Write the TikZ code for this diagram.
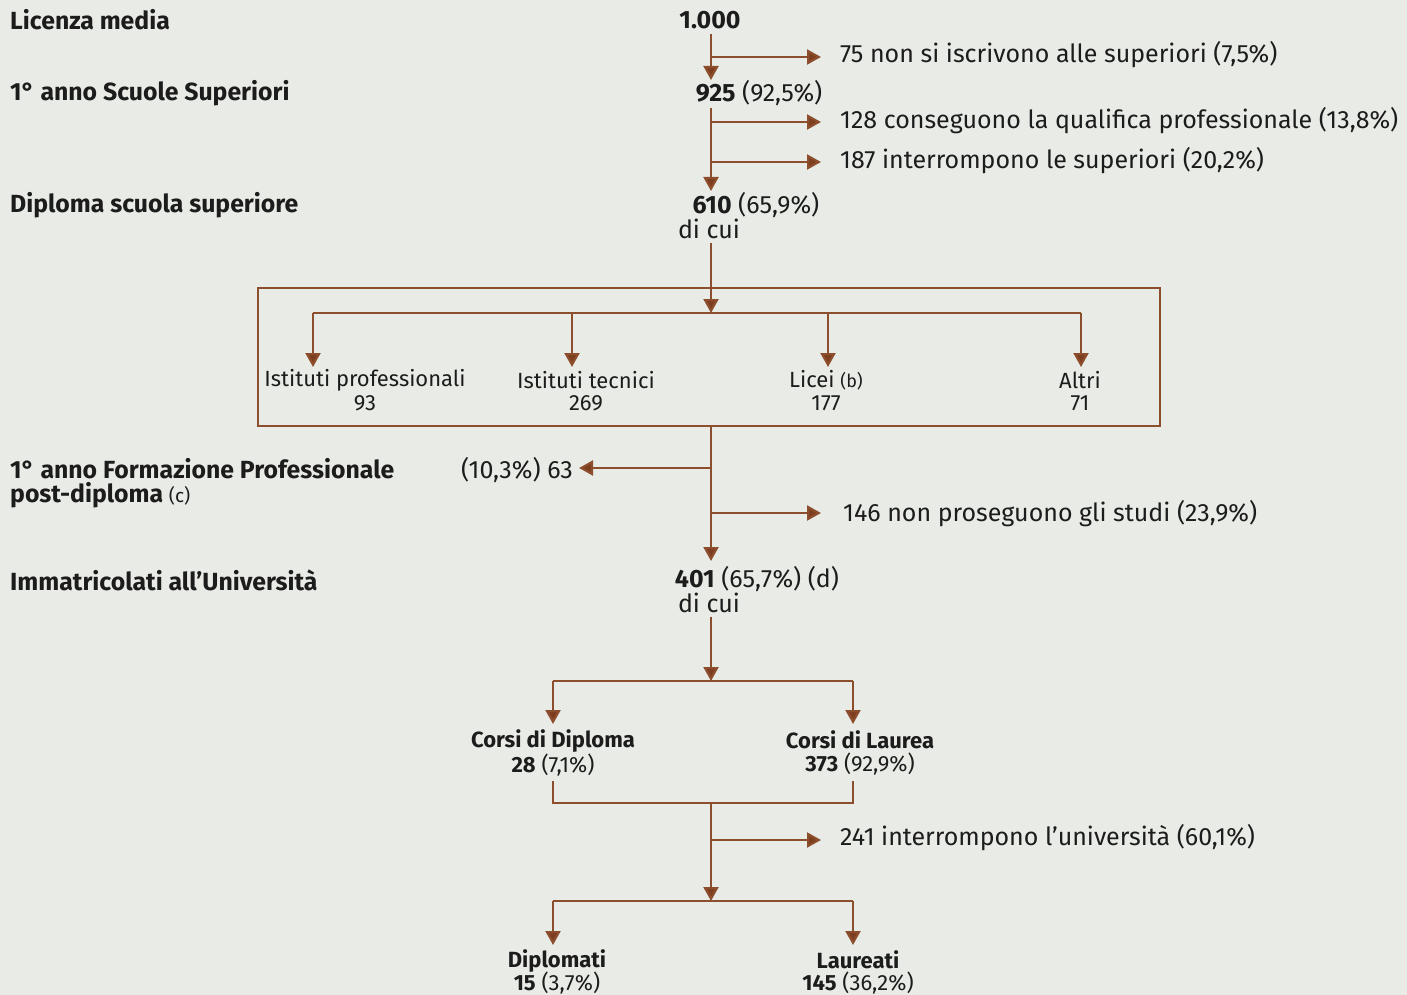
\documentclass[tikz,border=0pt]{standalone}
\usepackage{fontspec}
\setmainfont{Fira Sans}
\usetikzlibrary{arrows.meta,calc}
\definecolor{brn}{RGB}{140,78,45}
\definecolor{brnd}{RGB}{125,62,32}
\definecolor{bg}{RGB}{233,236,230}
\definecolor{ink}{RGB}{28,28,28}
\tikzset{
  every node/.style={inner sep=0pt, text=ink},
  big/.style={font=\fontsize{25}{28}\selectfont},
  small/.style={font=\fontsize{22}{25}\selectfont},
  lft/.style={anchor=west, font=\fontsize{24.8}{28}\selectfont\bfseries},
  rgt/.style={big, anchor=west},
  ln/.style={draw=brn, line width=2.2pt},
  arr/.style={draw=brn, line width=2.2pt, -{Triangle[length=14pt,width=15pt,fill=brnd]}},
  boxst/.style={draw=brn, line width=2.6pt, minimum width=902pt, minimum height=138pt}
}
\begin{document}
\begin{tikzpicture}[x=1pt,y=-1pt]
\fill[bg] (0,0) rectangle (1407,995);
\useasboundingbox (0,0) rectangle (1407,995);
% left labels
\node[lft] (L1) at (10,20) {Licenza media};
\node[lft] (L2) at (10,93) {1° anno Scuole Superiori};
\node[lft] (L3) at (10,205) {Diploma scuola superiore};
\node[lft] (L4) at (10,469) {1° anno Formazione Professionale};
\node[lft] (L5) at (10,495) {post-diploma {\mdseries\fontsize{19}{22}\selectfont (c)}};
\node[lft] (L6) at (10,580) {Immatricolati all’Università};
% spine numbers
\node[big] (n1000) at (710,20) {\textbf{1.000}};
\node[big] (n925) at (759,93) {\textbf{925} (92,5\%)};
\node[big] (n610) at (756,205) {\textbf{610} (65,9\%)};
\node[big] (dc1) at (709,229) {di cui};
\node[big] (n401) at (757,579) {\textbf{401} (65,7\%) (d)};
\node[big] (dc2) at (709,603) {di cui};
% right branch labels
\node[rgt] (r75) at (840,55) {75 non si iscrivono alle superiori (7,5\%)};
\node[rgt] (r128) at (840,121) {128 conseguono la qualifica professionale (13,8\%)};
\node[rgt] (r187) at (840,161) {187 interrompono le superiori (20,2\%)};
\node[rgt] (r146) at (843,514) {146 non proseguono gli studi (23,9\%)};
\node[rgt] (r241) at (840,838) {241 interrompono l’università (60,1\%)};
\node[big, anchor=east] (f63) at (573,470) {(10,3\%) 63};
% box
\node[boxst] (box) at (709,357) {};
\node[small] (ip) at (365,380) {Istituti professionali};
\node[small] (ipn) at (365,403) {93};
\node[small] (it) at (586,380) {Istituti tecnici};
\node[small] (itn) at (586,403) {269};
\node[small] (li) at (826,380) {Licei {\fontsize{18}{20}\selectfont (b)}};
\node[small] (lin) at (826,403) {177};
\node[small] (al) at (1080,380) {Altri};
\node[small] (aln) at (1080,403) {71};
% university
\node[small] (cd) at (553,741) {\bfseries Corsi di Diploma};
\node[small] (cdn) at (553,765) {\textbf{28} (7,1\%)};
\node[small] (cl) at (860,740) {\bfseries Corsi di Laurea};
\node[small] (cln) at (860,764) {\textbf{373} (92,9\%)};
\node[small] (dp) at (557,961) {\bfseries Diplomati};
\node[small] (dpn) at (557,983) {\textbf{15} (3,7\%)};
\node[small] (la) at (858,960) {\bfseries Laureati};
\node[small] (lan) at (858,983) {\textbf{145} (36,2\%)};
% coordinates
\coordinate (s1) at (711,34);
\coordinate (s1e) at (711,80);
\coordinate (b75) at (711,57);
\coordinate (t75) at (821,57);
\coordinate (s2) at (711,108);
\coordinate (s2e) at (711,191);
\coordinate (b128) at (711,122);
\coordinate (t128) at (821,122);
\coordinate (b187) at (711,162);
\coordinate (t187) at (821,162);
\coordinate (s3) at (711,243);
\coordinate (s3e) at (711,313);
\coordinate (dl) at (313,313);
\coordinate (dr) at (1081,313);
\coordinate (s4e) at (711,561);
\coordinate (b63) at (711,468);
\coordinate (t63) at (579,468);
\coordinate (b146) at (711,513);
\coordinate (t146) at (821,513);
\coordinate (s5) at (711,617);
\coordinate (s5e) at (711,681);
\coordinate (hl) at (553,681);
\coordinate (hr) at (853,681);
\coordinate (jl) at (553,803);
\coordinate (jr) at (853,803);
\coordinate (jc) at (711,803);
\coordinate (s6e) at (711,901);
\coordinate (b241) at (711,840);
\coordinate (t241) at (821,840);
\coordinate (bl) at (553,901);
\coordinate (br) at (853,901);
% connectors
\draw[arr] (s1) -- (s1e);
\draw[arr] (b75) -- (t75);
\draw[arr] (s2) -- (s2e);
\draw[arr] (b128) -- (t128);
\draw[arr] (b187) -- (t187);
\draw[arr] (s3) -- (s3e);
\draw[ln] (dl) -- (dr);
\draw[arr] (dl) -- (dl |- 0,367);
\draw[arr] (s3e -| 572,0) -- (572,367);
\draw[arr] (s3e -| 828,0) -- (828,367);
\draw[arr] (dr) -- (dr |- 0,367);
\draw[arr] (box.south -| s1) -- (s4e);
\draw[arr] (b63) -- (t63);
\draw[arr] (b146) -- (t146);
\draw[arr] (s5) -- (s5e);
\draw[ln] (hl) -- (hr);
\draw[arr] (hl) -- (hl |- 0,724);
\draw[arr] (hr) -- (hr |- 0,724);
\draw[ln] (jl |- 0,781) -- (jl) -- (jr) -- (jr |- 0,781);
\draw[arr] (jc) -- (s6e);
\draw[arr] (b241) -- (t241);
\draw[ln] (bl) -- (br);
\draw[arr] (bl) -- (bl |- 0,945);
\draw[arr] (br) -- (br |- 0,945);
\end{tikzpicture}
\end{document}
